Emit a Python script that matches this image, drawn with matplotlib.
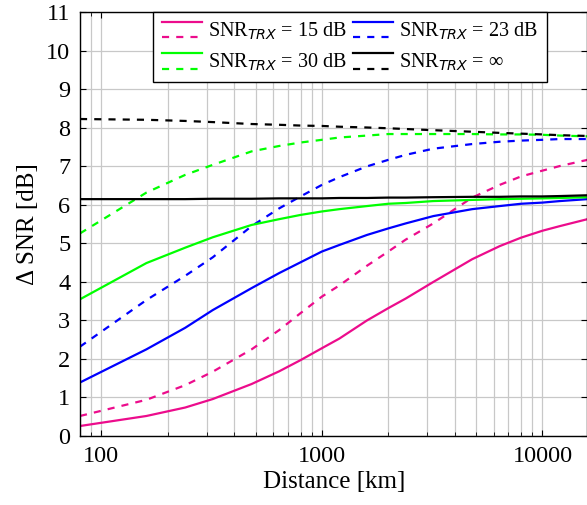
import matplotlib
matplotlib.use("Agg")
import matplotlib.pyplot as plt
from matplotlib.lines import Line2D
from matplotlib.legend_handler import HandlerBase
from matplotlib.ticker import LogLocator, NullFormatter

plt.rcParams['font.family'] = ['Liberation Serif', 'DejaVu Serif']
plt.rcParams['mathtext.fontset'] = 'custom'
plt.rcParams['mathtext.rm'] = 'Liberation Serif'
plt.rcParams['mathtext.it'] = 'DejaVu Sans:italic'

# distances [km]
distance = [80, 160, 240, 320, 480, 640, 800, 1000, 1200, 1600, 2000,
            2400, 3200, 4800, 6400, 8000, 10000, 12000, 16000]

# Delta SNR [dB], solid / dashed pairs per SNR_TRX
snr15_solid = [0.26, 0.52, 0.74, 0.96, 1.35, 1.68, 1.97, 2.28, 2.53, 3.00,
               3.32, 3.57, 4.00, 4.59, 4.93, 5.15, 5.33, 5.45, 5.63]
snr15_dash = [0.52, 0.94, 1.32, 1.67, 2.25, 2.75, 3.19, 3.62, 3.91, 4.42,
              4.79, 5.10, 5.52, 6.19, 6.52, 6.74, 6.89, 7.01, 7.17]
snr23_solid = [1.39, 2.25, 2.81, 3.27, 3.84, 4.23, 4.51, 4.79, 4.96, 5.22,
               5.39, 5.52, 5.71, 5.89, 5.97, 6.03, 6.06, 6.10, 6.15]
snr23_dash = [2.32, 3.53, 4.16, 4.64, 5.45, 5.91, 6.22, 6.52, 6.72, 7.00,
              7.17, 7.30, 7.46, 7.58, 7.64, 7.67, 7.69, 7.71, 7.71]
snr30_solid = [3.55, 4.49, 4.89, 5.16, 5.48, 5.63, 5.74, 5.83, 5.89, 5.97,
               6.03, 6.05, 6.10, 6.13, 6.15, 6.16, 6.17, 6.18, 6.20]
snr30_dash = [5.26, 6.32, 6.78, 7.04, 7.39, 7.53, 7.62, 7.69, 7.75, 7.80,
              7.84, 7.84, 7.84, 7.84, 7.83, 7.83, 7.82, 7.80, 7.78]
inf_solid = [6.15, 6.15, 6.15, 6.16, 6.16, 6.17, 6.17, 6.17, 6.18, 6.18,
             6.19, 6.19, 6.20, 6.21, 6.21, 6.22, 6.22, 6.23, 6.25]
inf_dash = [8.23, 8.21, 8.18, 8.15, 8.10, 8.08, 8.06, 8.05, 8.03, 8.01,
            7.99, 7.97, 7.94, 7.90, 7.87, 7.85, 7.83, 7.81, 7.79]

labels = ['SNR$_{TRX}$ = 15 dB', 'SNR$_{TRX}$ = 23 dB',
          'SNR$_{TRX}$ = 30 dB', 'SNR$_{TRX}$ = ∞']
colors = ['#EC0C8C', '#0000FF', '#00FF00', '#000000']
solids = [snr15_solid, snr23_solid, snr30_solid, inf_solid]
dashes = [snr15_dash, snr23_dash, snr30_dash, inf_dash]


class StackedHandler(HandlerBase):
    # solid line on top, dashed line below, like the pgfplots legend
    def create_artists(self, legend, orig_handle, xdescent, ydescent,
                       width, height, fontsize, trans):
        solid, dashed = orig_handle
        yc = (height - ydescent) / 2
        out = []
        for h, dy in ((solid, 5.5), (dashed, -5.5)):
            ln = Line2D([-xdescent, width - xdescent], [yc + dy, yc + dy])
            self.update_prop(ln, h, legend)
            ln.set_transform(trans)
            out.append(ln)
        return out


fig = plt.figure(figsize=(5.87, 5.05), dpi=100)
ax = fig.add_axes([0.1363, 0.1366, 0.8645, 0.839])

handles = []
for c, s, d in zip(colors, solids, dashes):
    l1, = ax.plot(distance, s, color=c, lw=1.6)
    l2, = ax.plot(distance, d, color=c, lw=1.6, dashes=(3.2, 3.2))
    handles.append((l1, l2))

ax.set_xscale('log')
ax.set_xlim(80, 16000)
ax.set_ylim(0, 11)
ax.set_yticks(range(0, 12))
ax.set_xticks([100, 1000, 10000], ['100', '1000', '10000'])
ax.xaxis.set_minor_locator(LogLocator(base=10, subs=range(2, 10), numticks=20))
ax.xaxis.set_minor_formatter(NullFormatter())

ax.grid(True, which='major', color='#c8c8c8', lw=0.9)
ax.grid(True, which='minor', axis='x', color='#c8c8c8', lw=0.9)
ax.set_axisbelow(True)
ax.tick_params(which='both', direction='in', top=True, right=True,
               labelsize=17.5, pad=7)
ax.tick_params(which='major', length=4)
ax.tick_params(which='minor', length=3)
for sp in ax.spines.values():
    sp.set_linewidth(1.0)

ax.set_xlabel('Distance [km]', fontsize=18, labelpad=3)
ax.set_ylabel('Δ SNR [dB]', fontsize=18, labelpad=5)

# matplotlib fills legend columns first, so reorder to get 15|23 / 30|inf rows
order = [0, 2, 1, 3]
leg = ax.legend([handles[i] for i in order], [labels[i] for i in order],
                handler_map={tuple: StackedHandler()},
                ncol=2, loc='upper left', bbox_to_anchor=(0.144, 1.0),
                borderaxespad=0, fontsize=14.5, handlelength=2.0,
                handletextpad=0.3, columnspacing=0.3, labelspacing=0.5,
                borderpad=0.42, fancybox=False, framealpha=1,
                edgecolor='black')
leg.get_frame().set_linewidth(1.0)

fig.savefig('out.png', dpi=100)
